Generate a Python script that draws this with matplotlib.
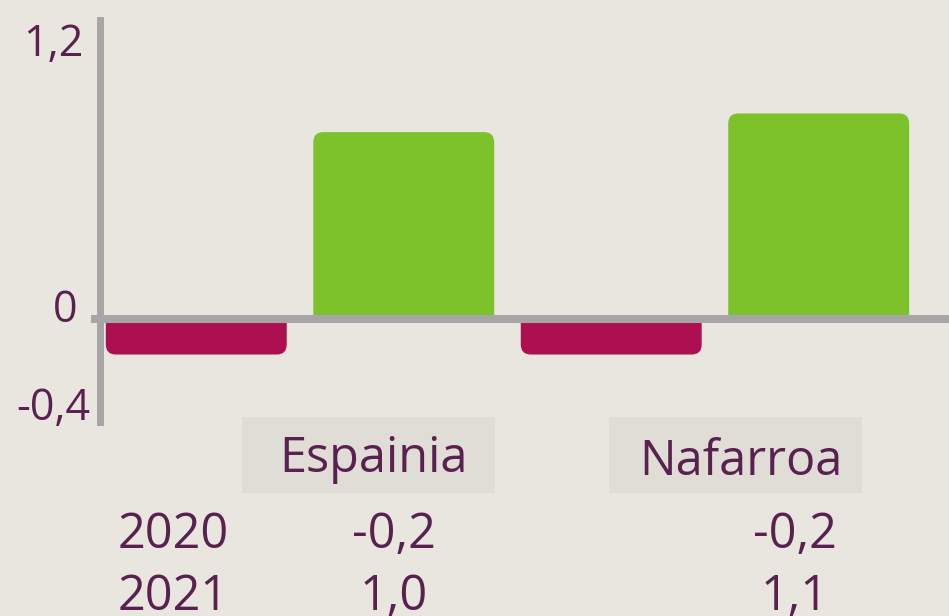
import matplotlib.pyplot as plt
from matplotlib.patches import FancyBboxPatch, Rectangle

regions = ['Espainia', 'Nafarroa']
years = ['2020', '2021']
vals_2020 = [-0.19, -0.19]
vals_2021 = [1.0, 1.1]
tick_labels = ['1,2', '0', '-0,4']

bg = '#E9E6E0'
txt = '#5A2150'
grey = '#A6A6A6'
colors = {'2020': '#AD1050', '2021': '#7DC22B'}

plt.rcParams['font.family'] = ['Open Sans', 'DejaVu Sans']

W, H = 949, 616
fig = plt.figure(figsize=(W / 100, H / 100), dpi=100, facecolor=bg)


def fx(px):
    return px / W


def fy(py):
    return 1 - py / H


ax = fig.add_axes([fx(100), fy(422), fx(949) - fx(100), fy(20) - fy(422)])
ax.set_facecolor(bg)
ax.set_xlim(-0.482, 1.564)
ax.set_ylim(-0.551, 1.60)

bw = 0.436
rx = 10 / 415
aspect = 415 / 186
ext = 0.1  # box runs past the baseline, the rest is clipped away


def rbar(x, v, c):
    x0 = x - bw / 2
    if v >= 0:
        y0, h = -ext, v + ext
        clip = Rectangle((-5, 0), 10, 10, transform=ax.transData)
    else:
        y0, h = v, -v + ext
        clip = Rectangle((-5, -10), 10, 10, transform=ax.transData)
    p = FancyBboxPatch((x0, y0), bw, h,
                       boxstyle='round,pad=0,rounding_size=%f' % rx,
                       mutation_aspect=aspect, fc=c, ec='none', zorder=2)
    ax.add_patch(p)
    p.set_clip_path(clip)


for i in range(len(regions)):
    rbar(i - 0.25, vals_2020[i], colors['2020'])
    rbar(i + 0.25, vals_2021[i], colors['2021'])

for s in ['top', 'right', 'bottom']:
    ax.spines[s].set_visible(False)
ax.spines['left'].set_color(grey)
ax.spines['left'].set_linewidth(5)
ax.spines['left'].set_zorder(3)
ax.axhline(0, xmin=-0.011, xmax=1, color=grey, lw=5.8, clip_on=False, zorder=3,
           solid_capstyle='butt')
ax.set_xticks([])
ax.set_yticks([])

# y labels placed at the axis ends like the original
fig.text(fx(83), fy(45), tick_labels[0], ha='right', va='center', fontsize=31, color=txt)
fig.text(fx(77), fy(311), tick_labels[1], ha='right', va='center', fontsize=31, color=txt)
fig.text(fx(90), fy(409), tick_labels[2], ha='right', va='center', fontsize=31, color=txt)

# table under the chart
boxes = [(242, 495), (609, 862)]
centers = [394, 795]
for (x0, x1), name in zip(boxes, regions):
    fig.patches.append(Rectangle((fx(x0), fy(493)), fx(x1) - fx(x0), fy(417) - fy(493),
                                 transform=fig.transFigure, fc='#E0DDD6', ec='none'))
fig.text(fx(374), fy(459), regions[0], ha='center', va='center', fontsize=35, color=txt)
fig.text(fx(741), fy(462), regions[1], ha='center', va='center', fontsize=35, color=txt)

for row, (yr, vals) in enumerate(zip(years, [vals_2020, vals_2021])):
    yy = 535 + row * 62
    fig.text(fx(173), fy(yy), yr, ha='center', va='center', fontsize=35, color=txt)
    for c, v in zip(centers, vals):
        fig.text(fx(c), fy(yy), ('%.1f' % v).replace('.', ','), ha='center', va='center',
                 fontsize=35, color=txt)

fig.savefig('out.png', dpi=100, facecolor=bg)
